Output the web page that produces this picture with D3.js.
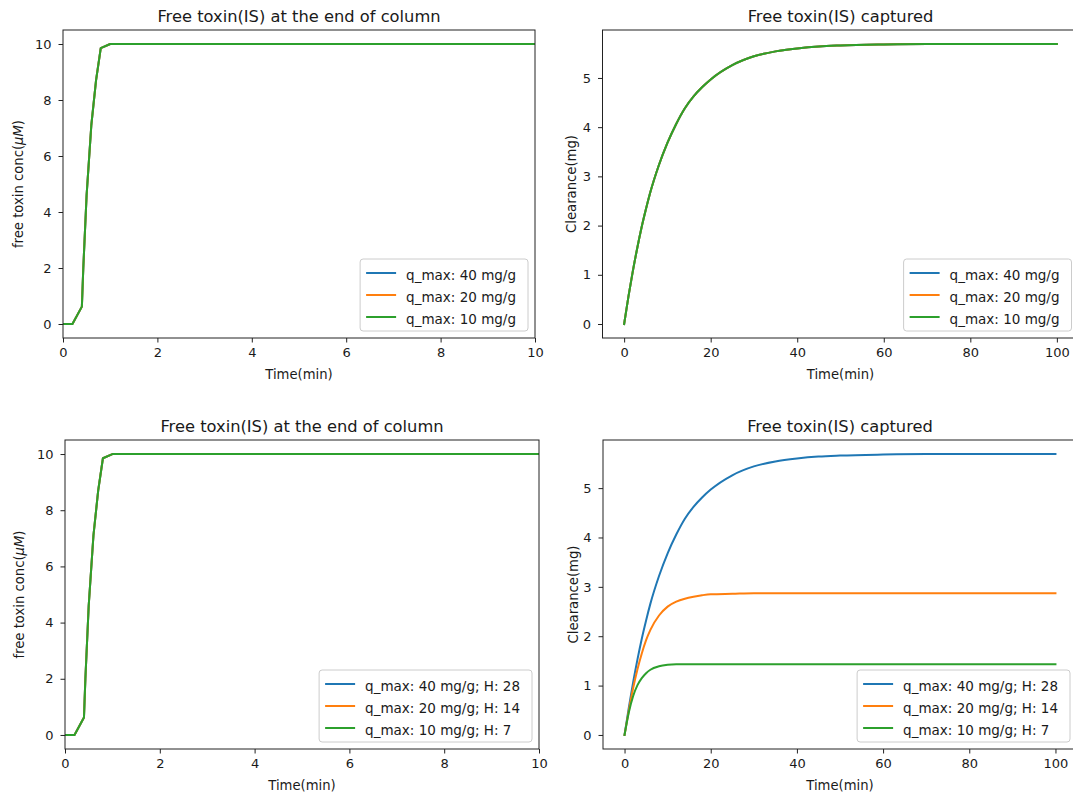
<!DOCTYPE html>
<html>
<head>
<meta charset="utf-8">
<script src="https://cdn.jsdelivr.net/npm/d3@7"></script>
<style>
  html, body { margin: 0; padding: 0; background: #fff; }
  svg { display: block; }
  text { font-family: "DejaVu Sans", sans-serif; fill: #1a1a1a; }
</style>
</head>
<body>
<svg id="chart" width="1073" height="794"></svg>
<script>
// ---------- data ----------
const tFree = [0, 0.2, 0.4, 0.43, 0.5, 0.6, 0.7, 0.8, 1.0, 1.4, 2, 4, 6, 8, 10];
const freeConc = [0, 0, 0.62, 2.0, 4.6, 7.1, 8.7, 9.85, 10.0, 10.0, 10.0, 10.0, 10.0, 10.0, 10.0];

const tClear = [0, 1, 2, 3, 4, 5, 6, 8, 10, 12, 14, 16, 18, 20, 25, 30, 35, 40, 45, 50, 60, 70, 80, 90, 100];
const clear40 = [0, 0.56, 1.07, 1.53, 1.95, 2.32, 2.66, 3.22, 3.68, 4.06, 4.38, 4.62, 4.81, 4.97, 5.26, 5.44, 5.54, 5.6, 5.64, 5.66, 5.68, 5.69, 5.69, 5.69, 5.69];
const clear20 = [0, 0.5, 0.95, 1.33, 1.65, 1.92, 2.13, 2.42, 2.6, 2.7, 2.76, 2.8, 2.83, 2.85, 2.86, 2.87, 2.87, 2.87, 2.87, 2.87, 2.87, 2.87, 2.87, 2.87, 2.87];
const clear10 = [0, 0.46, 0.79, 1.01, 1.15, 1.25, 1.32, 1.39, 1.42, 1.43, 1.43, 1.43, 1.43, 1.43, 1.43, 1.43, 1.43, 1.43, 1.43, 1.43, 1.43, 1.43, 1.43, 1.43, 1.43];

const legendTop = ["q_max: 40 mg/g", "q_max: 20 mg/g", "q_max: 10 mg/g"];
const legendBottom = ["q_max: 40 mg/g; H: 28", "q_max: 20 mg/g; H: 14", "q_max: 10 mg/g; H: 7"];
const seriesColors = ["#1f77b4", "#ff7f0e", "#2ca02c"];

const xTicksFree = [0, 2, 4, 6, 8, 10];
const yTicksFree = [0, 2, 4, 6, 8, 10];
const xTicksClear = [0, 20, 40, 60, 80, 100];
const yTicksClear = [0, 1, 2, 3, 4, 5];

const titleFree = "Free toxin(IS) at the end of column";
const titleClear = "Free toxin(IS) captured";
const xLabel = "Time(min)";
const yLabelClear = "Clearance(mg)";

// ---------- drawing ----------
const svg = d3.select("#chart");
let clipId = 0;

function margined(vals, frac) {
  const lo = d3.min(vals), hi = d3.max(vals);
  const m = (hi - lo) * frac;
  return [lo - m, hi + m];
}

function drawPanel(cfg) {
  const {x0, x1, y0, y1} = cfg.box;
  const xs = d3.scaleLinear().domain(cfg.xDomain).range([x0, x1]);
  const ys = d3.scaleLinear().domain(cfg.yDomain).range([y1, y0]);
  const g = svg.append("g");

  const cid = "clip" + (clipId++);
  g.append("clipPath").attr("id", cid).append("rect")
    .attr("x", x0).attr("y", y0).attr("width", x1 - x0).attr("height", y1 - y0);

  const line = d3.line().x(d => xs(d[0])).y(d => ys(d[1]))
    .curve(cfg.smooth ? d3.curveMonotoneX : d3.curveLinear);

  const lines = g.append("g").attr("clip-path", `url(#${cid})`);
  cfg.series.forEach((s, i) => {
    lines.append("path")
      .datum(cfg.t.map((tv, k) => [tv, s[k]]))
      .attr("d", line)
      .attr("fill", "none")
      .attr("stroke", seriesColors[i])
      .attr("stroke-width", 2)
      .attr("stroke-linejoin", "round")
      .attr("stroke-linecap", "square");
  });

  // axes
  const fmt = d3.format("~g");
  const xAxis = d3.axisBottom(xs).tickValues(cfg.xTicks).tickFormat(fmt).tickSize(4.5).tickPadding(5.5).tickSizeOuter(0);
  const yAxis = d3.axisLeft(ys).tickValues(cfg.yTicks).tickFormat(fmt).tickSize(4.5).tickPadding(7).tickSizeOuter(0);
  const gx = g.append("g").attr("transform", `translate(0,${y1})`).call(xAxis);
  const gy = g.append("g").attr("transform", `translate(${x0},0)`).call(yAxis);
  [gx, gy].forEach(a => {
    a.select(".domain").remove();
    a.selectAll("line").attr("stroke", "#222").attr("stroke-width", 1);
    a.selectAll("text").attr("font-size", 13).attr("fill", "#1a1a1a")
      .style("font-family", "'DejaVu Sans', sans-serif");
  });

  // frame
  g.append("rect").attr("x", x0).attr("y", y0).attr("width", x1 - x0).attr("height", y1 - y0)
    .attr("fill", "none").attr("stroke", "#222").attr("stroke-width", 1);

  // title
  g.append("text").attr("x", (x0 + x1) / 2).attr("y", y0 - 8)
    .attr("text-anchor", "middle").attr("font-size", 16.3).text(cfg.title);

  // x label
  g.append("text").attr("x", (x0 + x1) / 2).attr("y", y1 + 41)
    .attr("text-anchor", "middle").attr("font-size", 13.2).text(xLabel);

  // y label
  const yl = g.append("text")
    .attr("transform", `translate(${cfg.yLabelX},${(y0 + y1) / 2}) rotate(-90)`)
    .attr("text-anchor", "middle").attr("dominant-baseline", "central").attr("font-size", 13.2);
  if (cfg.yLabelMath) {
    yl.append("tspan").text("free toxin conc(");
    yl.append("tspan").attr("font-style", "italic").text("\u03BCM");
    yl.append("tspan").text(")");
  } else {
    yl.text(cfg.yLabel);
  }

  // legend
  const fs = 13.5, rowH = 22, pad = 6, handleLen = 30, textGap = 10;
  const lg = g.append("g");
  const frame = lg.append("rect");
  const texts = cfg.labels.map((lab, i) =>
    lg.append("text").attr("font-size", fs).attr("dominant-baseline", "central").text(lab));
  const maxW = d3.max(texts, t => t.node().getComputedTextLength());
  const lw = pad + 4 + handleLen + textGap + maxW + pad + 2;
  const lh = rowH * cfg.labels.length + 6;
  const lx = x1 - 7 - lw, ly = y1 - 7 - lh;
  frame.attr("x", lx).attr("y", ly).attr("width", lw).attr("height", lh)
    .attr("rx", 3).attr("fill", "#fff").attr("fill-opacity", 0.8)
    .attr("stroke", "#cccccc").attr("stroke-width", 1);
  cfg.labels.forEach((lab, i) => {
    const cy = ly + 14 + i * rowH;
    lg.append("line").attr("x1", lx + pad).attr("x2", lx + pad + handleLen)
      .attr("y1", cy).attr("y2", cy)
      .attr("stroke", seriesColors[i]).attr("stroke-width", 2);
    texts[i].attr("x", lx + pad + handleLen + textGap).attr("y", cy + 2);
  });
}

drawPanel({
  box: {x0: 63, x1: 535, y0: 30, y1: 338},
  xDomain: [0, 10], yDomain: margined(freeConc, 0.05),
  t: tFree, series: [freeConc, freeConc, freeConc], smooth: false,
  xTicks: xTicksFree, yTicks: yTicksFree,
  title: titleFree, yLabelMath: true, yLabelX: 18, labels: legendTop
});
drawPanel({
  box: {x0: 602.5, x1: 1078.5, y0: 30, y1: 338},
  xDomain: margined(tClear, 0.05), yDomain: margined(clear40, 0.05),
  t: tClear, series: [clear40, clear40, clear40], smooth: true,
  xTicks: xTicksClear, yTicks: yTicksClear,
  title: titleClear, yLabel: yLabelClear, yLabelX: 571, labels: legendTop
});
drawPanel({
  box: {x0: 65, x1: 539, y0: 440, y1: 749},
  xDomain: [0, 10], yDomain: margined(freeConc, 0.05),
  t: tFree, series: [freeConc, freeConc, freeConc], smooth: false,
  xTicks: xTicksFree, yTicks: yTicksFree,
  title: titleFree, yLabelMath: true, yLabelX: 19, labels: legendBottom
});
drawPanel({
  box: {x0: 603, x1: 1077, y0: 440, y1: 749},
  xDomain: margined(tClear, 0.05), yDomain: margined(clear40.concat(clear20, clear10), 0.05),
  t: tClear, series: [clear40, clear20, clear10], smooth: true,
  xTicks: xTicksClear, yTicks: yTicksClear,
  title: titleClear, yLabel: yLabelClear, yLabelX: 573, labels: legendBottom
});
</script>
</body>
</html>
